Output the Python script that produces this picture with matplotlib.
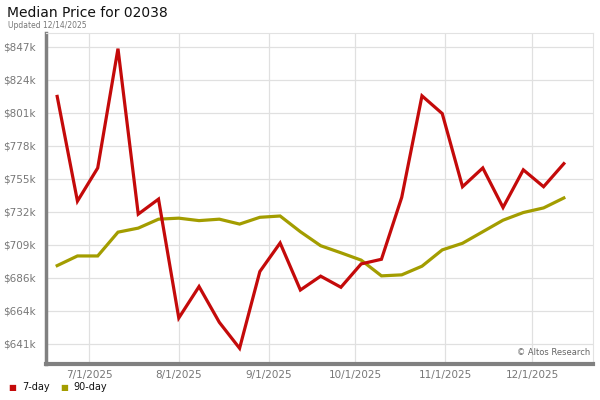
import matplotlib
matplotlib.use("Agg")
import matplotlib.pyplot as plt
import datetime as DT

# weekly points, Fridays from 6/20/2025 to 12/12/2025
start = DT.date(2025, 6, 20)
dates = [start + DT.timedelta(days=7 * i) for i in range(26)]

# median price in $k
price_7day = [812.6, 740.0, 763.0, 845.7, 731.0, 741.4, 659.0, 680.8, 656.0, 638.0,
              691.2, 711.0, 678.4, 688.0, 680.3, 696.5, 699.7, 742.6, 813.0, 800.7,
              750.0, 763.0, 735.6, 761.7, 750.0, 766.0]
price_90day = [695.3, 702.0, 702.0, 718.5, 721.3, 727.5, 728.2, 726.5, 727.5, 724.1,
               728.8, 729.7, 718.8, 709.1, 704.2, 699.1, 688.2, 688.9, 694.9, 706.2,
               710.8, 718.8, 726.8, 732.1, 735.3, 742.2]

ytick_vals = [641.0, 663.9, 686.8, 709.7, 732.6, 755.5, 778.4, 801.3, 824.2, 847.1]
ytick_labels = ["$641k", "$664k", "$686k", "$709k", "$732k", "$755k", "$778k", "$801k", "$824k", "$847k"]
xtick_dates = [DT.date(2025, m, 1) for m in range(7, 13)]
xtick_labels = ["7/1/2025", "8/1/2025", "9/1/2025", "10/1/2025", "11/1/2025", "12/1/2025"]

RED = "#c40a0a"
OLIVE = "#a39d00"

fig = plt.figure(figsize=(6, 4), dpi=100)
ax = fig.add_axes([0.076, 0.09, 0.912, 0.828])

ax.plot(dates, price_90day, color=OLIVE, lw=2.3, solid_joinstyle="miter", zorder=3)
ax.plot(dates, price_7day, color=RED, lw=2.3, solid_joinstyle="miter", zorder=4)

ax.set_ylim(627.1, 856.7)
ax.set_xlim(DT.date(2025, 6, 16), DT.date(2025, 12, 22) + DT.timedelta(hours=20))

ax.set_yticks(ytick_vals)
ax.set_yticklabels(ytick_labels)
ax.set_xticks(xtick_dates)
ax.set_xticklabels(xtick_labels)

ax.tick_params(axis="both", length=0, labelsize=7.5, labelcolor="#777777")
ax.tick_params(axis="y", pad=7)
ax.tick_params(axis="x", pad=4)

ax.grid(True, color="#e0e0e0", lw=0.9)
ax.set_axisbelow(True)

for s in ["top", "right"]:
    ax.spines[s].set_color("#e2e2e2")
    ax.spines[s].set_linewidth(0.8)
ax.spines["left"].set_color("#808080")
ax.spines["left"].set_linewidth(2.5)
ax.spines["bottom"].set_color("#808080")
ax.spines["bottom"].set_linewidth(3)

ax.text(0.995, 0.022, "\u00a9 Altos Research", transform=ax.transAxes, ha="right", va="bottom",
        fontsize=6, color="#666666")

fig.text(0.012, 0.968, "Median Price for 02038", fontsize=10, color="#111111", va="center")
fig.text(0.013, 0.937, "Updated 12/14/2025", fontsize=5.5, color="#777777", va="center")

# legend squares
fig.text(0.013, 0.032, "\u25a0", color=RED, fontsize=6, va="center")
fig.text(0.037, 0.032, "7-day", color="#111111", fontsize=7, va="center")
fig.text(0.100, 0.032, "\u25a0", color=OLIVE, fontsize=6, va="center")
fig.text(0.123, 0.032, "90-day", color="#111111", fontsize=7, va="center")

fig.savefig("out.png", dpi=100)
